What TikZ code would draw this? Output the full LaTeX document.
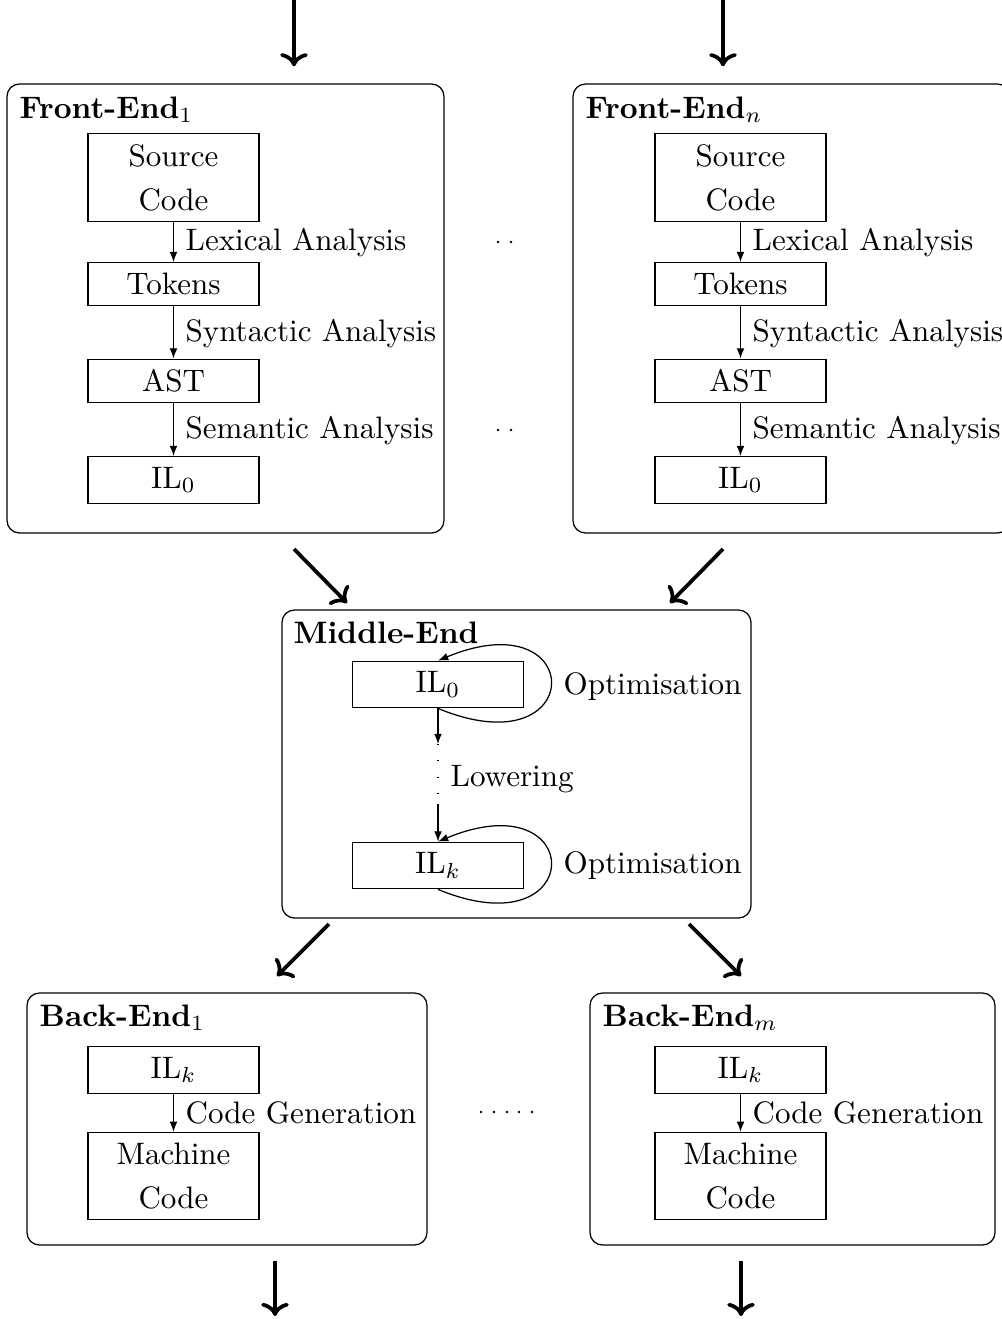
\documentclass[tikz,border=0pt]{standalone}
\usetikzlibrary{arrows.meta}
\begin{document}
\begin{tikzpicture}[x=0.322pt,y=-0.322pt,
  outer/.style={draw,rounded corners=4pt,line width=0.4pt,inner sep=0pt},
  inbox/.style={draw,line width=0.4pt,minimum width=55.06pt,align=center,font=\fontsize{10}{14.2}\selectfont},
  lbl/.style={anchor=base west,inner sep=0pt},
  ttl/.style={anchor=base west,inner sep=0pt,font=\bfseries},
  inarrow/.style={line width=0.4pt,-{Latex[length=3.3pt,width=2.5pt]}},
  bigarrow/.style={line width=1.2pt,->},
  dotline/.style={line width=0.4pt,dash pattern=on 0.3pt off 5pt},
]
\useasboundingbox (0,0) rectangle (1002,1319);
\clip (0,0) rectangle (1002,1319);

% ---------- outer boxes ----------
\node[outer,minimum width=140.71pt,minimum height=144.58pt] (FE1) at (225.5,308.5) {};
\node[outer,minimum width=140.71pt,minimum height=144.58pt] (FEn) at (791.5,308.5) {};
\node[outer,minimum width=151.02pt,minimum height=99.18pt] (ME) at (516.5,764) {};
\node[outer,minimum width=128.8pt,minimum height=81.14pt] (BE1) at (227,1119) {};
\node[outer,minimum width=130.41pt,minimum height=81.14pt] (BEm) at (792.5,1119) {};

% ---------- titles ----------
\node[ttl] (tFE1) at (19,118) {Front-End$_1$};
\node[ttl] (tFEn) at (585,118) {Front-End$_n$};
\node[ttl] (tME) at (293,643) {Middle-End};
\node[ttl] (tBE1) at (39,1026) {Back-End$_1$};
\node[ttl] (tBEm) at (602,1026) {Back-End$_m$};

% ---------- front-end 1 ----------
\node[inbox] (src1) at (173.5,177.5) {Source\\Code};
\node[inbox] (tok1) at (173.5,284) {Tokens};
\node[inbox] (ast1) at (173.5,381) {AST};
\node[inbox] (il1) at (173.5,480) {IL$_0$};
\draw[inarrow] (src1) -- (tok1);
\draw[inarrow] (tok1) -- (ast1);
\draw[inarrow] (ast1) -- (il1);
\node[lbl] (lex1) at (185,250) {Lexical Analysis};
\node[lbl] (syn1) at (185,341) {Syntactic Analysis};
\node[lbl] (sem1) at (185,438) {Semantic Analysis};

% ---------- front-end n ----------
\node[inbox] (srcn) at (740.5,177.5) {Source\\Code};
\node[inbox] (tokn) at (740.5,284) {Tokens};
\node[inbox] (astn) at (740.5,381) {AST};
\node[inbox] (iln) at (740.5,480) {IL$_0$};
\draw[inarrow] (srcn) -- (tokn);
\draw[inarrow] (tokn) -- (astn);
\draw[inarrow] (astn) -- (iln);
\node[lbl] (lexn) at (752,250) {Lexical Analysis};
\node[lbl] (synn) at (752,341) {Syntactic Analysis};
\node[lbl] (semn) at (752,438) {Semantic Analysis};

% dots between front-ends
\foreach \px in {498,511} {
  \fill (\px,242) circle (0.45pt);
  \fill (\px,430) circle (0.45pt);
}

% ---------- middle-end ----------
\node[inbox] (mil0) at (438,684.5) {IL$_0$};
\node[inbox] (milk) at (438,865.5) {IL$_k$};
\coordinate (low1) at (438,744);
\coordinate (low2) at (438,804);
\draw[inarrow] (mil0) -- (low1);
\draw[dotline] (low1) -- (low2);
\draw[inarrow] (low2) -- (milk);
\node[lbl] (lowl) at (450,786) {Lowering};
\draw[inarrow] (mil0.south) .. controls +(150,62) and +(150,-62) .. (mil0.north);
\draw[inarrow] (milk.south) .. controls +(150,62) and +(150,-62) .. (milk.north);
\node[lbl] (opt0) at (563,694) {Optimisation};
\node[lbl] (optk) at (563,873) {Optimisation};

% ---------- back-end 1 ----------
\node[inbox] (bil1) at (173.5,1070) {IL$_k$};
\node[inbox] (mc1) at (173.5,1176) {Machine\\Code};
\draw[inarrow] (bil1) -- (mc1);
\node[lbl] (cg1) at (185,1123) {Code Generation};

% ---------- back-end m ----------
\node[inbox] (bilm) at (740.5,1070) {IL$_k$};
\node[inbox] (mcm) at (740.5,1176) {Machine\\Code};
\draw[inarrow] (bilm) -- (mcm);
\node[lbl] (cgm) at (752,1123) {Code Generation};

% dots between back-ends
\foreach \px in {481,494,507,519,532} {
  \fill (\px,1112) circle (0.45pt);
}

% ---------- big arrows ----------
\coordinate (in1) at (294,0);
\coordinate (inn) at (723,0);
\draw[bigarrow,shorten >=5.5pt] (in1) -- (in1 |- FE1.north);
\draw[bigarrow,shorten >=5.5pt] (inn) -- (inn |- FEn.north);

\coordinate (a1s) at (294,549);
\coordinate (a1e) at (347,603);
\coordinate (a2s) at (723,549);
\coordinate (a2e) at (670,603);
\draw[bigarrow] (a1s) -- (a1e);
\draw[bigarrow] (a2s) -- (a2e);

\coordinate (b1s) at (329,924);
\coordinate (b1e) at (277,976);
\coordinate (b2s) at (689,924);
\coordinate (b2e) at (741,976);
\draw[bigarrow] (b1s) -- (b1e);
\draw[bigarrow] (b2s) -- (b2e);

\coordinate (o1) at (275,1316);
\coordinate (om) at (741,1316);
\draw[bigarrow,shorten <=4.8pt] (BE1.south -| o1) -- (o1);
\draw[bigarrow,shorten <=4.8pt] (BEm.south -| om) -- (om);
\end{tikzpicture}
\end{document}
